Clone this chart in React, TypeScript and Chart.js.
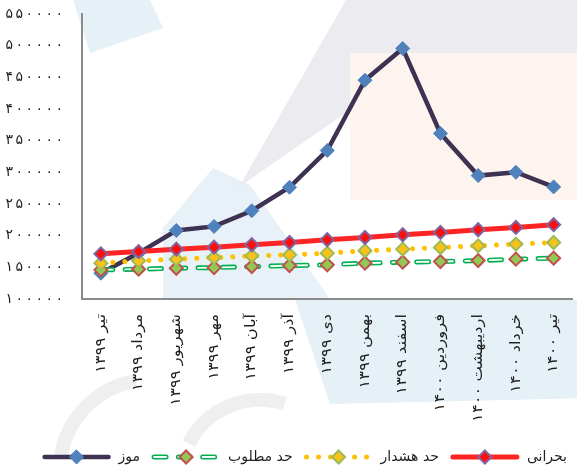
import React, { useEffect, useRef } from "react";
import { Chart, registerables } from "chart.js";

Chart.register(...registerables);

// ---------- data ----------
const categories = [
  "تیر ۱۳۹۹",
  "مرداد ۱۳۹۹",
  "شهریور ۱۳۹۹",
  "مهر ۱۳۹۹",
  "آبان ۱۳۹۹",
  "آذر ۱۳۹۹",
  "دی ۱۳۹۹",
  "بهمن ۱۳۹۹",
  "اسفند ۱۳۹۹",
  "فروردین ۱۴۰۰",
  "اردیبهشت ۱۴۰۰",
  "خرداد ۱۴۰۰",
  "تیر ۱۴۰۰",
];

const mozValues = [140700, 172500, 208200, 214600, 239400, 276400, 334500, 445400, 495600, 361400, 294900, 300100, 277000];
const criticalValues = [171300, 174900, 178700, 181900, 185600, 189200, 193500, 197100, 201400, 205100, 209300, 213000, 217300];
const warningValues = [156600, 160200, 162900, 165400, 168100, 169700, 172400, 176100, 178700, 181300, 184000, 186700, 189200];
const desiredValues = [146000, 147100, 148600, 149600, 151200, 152800, 153900, 156600, 158200, 159100, 160700, 162900, 164500];

const yMin = 100000;
const yMax = 550000;
const yStep = 50000;

const nameCritical = "بحرانی";
const nameWarning = "حد هشدار";
const nameDesired = "حد مطلوب";
const nameMoz = "موز";

// ---------- styles ----------
const FONT = '"DejaVu Sans", sans-serif';
const TEXT_COLOR = "#1f1f1f";
const AXIS_COLOR = "#8a8a8a";

const RED = "#FF2424";
const RED_MARK = "#FF0D0D";
const PURPLE_EDGE = "#8064A2";
const GOLD = "#FFC000";
const GOLD_MARK = "#F8C21A";
const GREEN_EDGE = "#9BBB59";
const GREEN = "#00B050";
const LIME_MARK = "#92C955";
const BROWN_EDGE = "#C0504D";
const DARK = "#3E3253";
const BLUE = "#4F81BD";

const DOT_DASH = [0.001, 12];
const GREEN_DASH = [12, 12.3];

const toFa = (v: number | string) =>
  String(v).replace(/\d/g, (d) => "۰۱۲۳۴۵۶۷۸۹"[Number(d)]);

// faint watermark behind the chart
const watermarkPlugin = {
  id: "watermark",
  beforeDraw(chart: any) {
    const ctx = chart.ctx as CanvasRenderingContext2D;
    ctx.save();
    const poly = (pts: number[][], color: string) => {
      ctx.beginPath();
      ctx.moveTo(pts[0][0], pts[0][1]);
      for (let i = 1; i < pts.length; i++) ctx.lineTo(pts[i][0], pts[i][1]);
      ctx.closePath();
      ctx.fillStyle = color;
      ctx.fill();
    };
    poly([[73, 0], [150, 0], [163, 28], [90, 53]], "#E6F0F7");
    poly([[163, 228], [213, 168], [250, 185], [330, 299], [163, 299]], "#E8F1F7");
    poly([[295, 300], [590, 300], [590, 398], [330, 404]], "#E6F0F7");
    poly([[350, 53], [590, 53], [590, 200], [350, 200]], "#FDF4EF");
    poly([[346, 0], [590, 0], [590, 53], [350, 53], [350, 110], [239, 187]], "#EBEBF0");
    ctx.strokeStyle = "#EFEFEF";
    ctx.lineWidth = 14;
    ctx.beginPath();
    ctx.arc(150, 470, 90, Math.PI * 1.05, Math.PI * 1.45);
    ctx.stroke();
    ctx.beginPath();
    ctx.arc(260, 480, 80, Math.PI * 1.15, Math.PI * 1.6);
    ctx.stroke();
    ctx.restore();
  },
};

// tick labels drawn from the scales (wider Persian typography)
const tickLabelPlugin = {
  id: "tickLabels",
  afterDraw(chart: any) {
    const ctx = chart.ctx as CanvasRenderingContext2D;
    const ys = chart.scales.y;
    const xs = chart.scales.x;
    ctx.save();
    ctx.fillStyle = TEXT_COLOR;
    ctx.font = `14px ${FONT}`;
    ctx.textBaseline = "middle";
    ctx.textAlign = "right";
    const spacing = 2.5;
    for (const t of ys.ticks) {
      const y = ys.getPixelForValue(t.value);
      const chars = Array.from(toFa(t.value));
      let x = ys.right - 19;
      for (let k = chars.length - 1; k >= 0; k--) {
        ctx.fillText(chars[k], x, y);
        x -= ctx.measureText(chars[k]).width + spacing;
      }
    }
    xs.ticks.forEach((t: any, i: number) => {
      const x = xs.getPixelForTick(i);
      ctx.save();
      ctx.translate(x, xs.top + 15);
      ctx.rotate(-Math.PI / 2);
      ctx.scale(1.17, 1);
      ctx.textAlign = "right";
      ctx.textBaseline = "middle";
      ctx.fillText(String(xs.getLabelForValue(t.value)), 0, 0);
      ctx.restore();
    });
    ctx.restore();
  },
};

type LegendItem = {
  label: string;
  color: string;
  width: number;
  dash: number[];
  cap: CanvasLineCap;
  inner?: boolean;
  fill: string;
  edge: string;
  edgeWidth: number;
  radius: number;
};

const legendItems: LegendItem[] = [
  { label: nameCritical, color: RED, width: 5, dash: [], cap: "round", fill: RED_MARK, edge: PURPLE_EDGE, edgeWidth: 2, radius: 6.5 },
  { label: nameWarning, color: GOLD, width: 5, dash: DOT_DASH, cap: "round", fill: GOLD_MARK, edge: GREEN_EDGE, edgeWidth: 2, radius: 6.5 },
  { label: nameDesired, color: GREEN, width: 5, dash: GREEN_DASH, cap: "round", inner: true, fill: LIME_MARK, edge: BROWN_EDGE, edgeWidth: 2, radius: 6.5 },
  { label: nameMoz, color: DARK, width: 4.5, dash: [], cap: "round", fill: BLUE, edge: BLUE, edgeWidth: 1, radius: 7 },
];

const drawDiamond = (ctx: CanvasRenderingContext2D, x: number, y: number, r: number, fill: string, edge: string, w: number) => {
  ctx.beginPath();
  ctx.moveTo(x, y - r);
  ctx.lineTo(x + r, y);
  ctx.lineTo(x, y + r);
  ctx.lineTo(x - r, y);
  ctx.closePath();
  ctx.fillStyle = fill;
  ctx.fill();
  ctx.setLineDash([]);
  ctx.lineWidth = w;
  ctx.strokeStyle = edge;
  ctx.stroke();
};

const legendPlugin = {
  id: "excelLegend",
  afterDraw(chart: any) {
    const ctx = chart.ctx as CanvasRenderingContext2D;
    ctx.save();
    const y = 457;
    let x = 567;
    ctx.font = `14px ${FONT}`;
    ctx.textBaseline = "middle";
    ctx.textAlign = "right";
    const symW = 66;
    for (const it of legendItems) {
      ctx.fillStyle = TEXT_COLOR;
      ctx.fillText(it.label, x, y);
      const tw = ctx.measureText(it.label).width;
      x -= tw + 8;
      const x1 = x - symW;
      const x2 = x - 2;
      ctx.lineCap = it.cap;
      ctx.setLineDash(it.dash);
      ctx.strokeStyle = it.color;
      ctx.lineWidth = it.width;
      ctx.beginPath();
      ctx.moveTo(x1, y);
      ctx.lineTo(x2, y);
      ctx.stroke();
      if (it.inner) {
        ctx.strokeStyle = "#ffffff";
        ctx.lineWidth = 1.8;
        ctx.beginPath();
        ctx.moveTo(x1, y);
        ctx.lineTo(x2, y);
        ctx.stroke();
      }
      drawDiamond(ctx, (x1 + x2) / 2, y, it.radius, it.fill, it.edge, it.edgeWidth);
      x = x1 - 14;
    }
    ctx.restore();
  },
};

export default function App() {
  const canvasRef = useRef<HTMLCanvasElement | null>(null);

  useEffect(() => {
    const canvas = canvasRef.current;
    if (!canvas) return;
    const point = (fill: string, edge: string, edgeWidth: number, radius: number) => ({
      pointStyle: "rectRot" as const,
      pointRadius: radius,
      pointHoverRadius: radius,
      pointBackgroundColor: fill,
      pointBorderColor: edge,
      pointBorderWidth: edgeWidth,
    });
    const chart = new Chart(canvas, {
      type: "line",
      data: {
        labels: categories,
        datasets: [
          {
            label: nameCritical,
            data: criticalValues,
            borderColor: RED,
            borderWidth: 5,
            borderCapStyle: "round",
            ...point(RED_MARK, PURPLE_EDGE, 2, 6.5),
          },
          {
            label: nameWarning,
            data: warningValues,
            borderColor: GOLD,
            borderWidth: 5,
            borderDash: DOT_DASH,
            borderCapStyle: "round",
            ...point(GOLD_MARK, GREEN_EDGE, 2, 6.5),
          },
          {
            label: nameDesired,
            data: desiredValues,
            showLine: false,
            ...point(LIME_MARK, BROWN_EDGE, 2, 6.5),
          },
          {
            label: nameDesired + " inner",
            data: desiredValues,
            borderColor: "#ffffff",
            borderWidth: 1.8,
            borderDash: GREEN_DASH,
            borderCapStyle: "round",
            pointRadius: 0,
          },
          {
            label: nameDesired + " line",
            data: desiredValues,
            borderColor: GREEN,
            borderWidth: 5,
            borderDash: GREEN_DASH,
            borderCapStyle: "round",
            pointRadius: 0,
          },
          {
            label: nameMoz,
            data: mozValues,
            borderColor: DARK,
            borderWidth: 4.5,
            ...point(BLUE, BLUE, 1, 7),
          },
        ] as any,
      },
      options: {
        responsive: false,
        animation: false,
        devicePixelRatio: 1,
        layout: { padding: { top: 14, left: 0, right: 0, bottom: 0 } },
        plugins: {
          legend: { display: false },
          tooltip: { enabled: false },
        },
        elements: { line: { tension: 0 } },
        scales: {
          x: {
            type: "category",
            offset: true,
            grid: { display: false, drawTicks: false },
            border: { display: true, color: AXIS_COLOR, width: 2 },
            ticks: { display: false, autoSkip: false },
            afterFit: (s: any) => {
              s.height = 172;
            },
          },
          y: {
            min: yMin,
            max: yMax,
            grid: { display: false, drawTicks: false },
            border: { display: true, color: AXIS_COLOR, width: 2 },
            ticks: { display: false, stepSize: yStep },
            afterFit: (s: any) => {
              s.width = 82;
            },
          },
        },
      },
      plugins: [watermarkPlugin, tickLabelPlugin, legendPlugin],
    });
    return () => chart.destroy();
  }, []);

  return (
    <div
      style={{
        position: "fixed",
        left: 0,
        top: 0,
        width: 577,
        height: 471,
        overflow: "hidden",
        background: "#ffffff",
      }}
    >
      <canvas ref={canvasRef} width={581} height={471} style={{ display: "block", width: 581, height: 471 }} />
    </div>
  );
}
